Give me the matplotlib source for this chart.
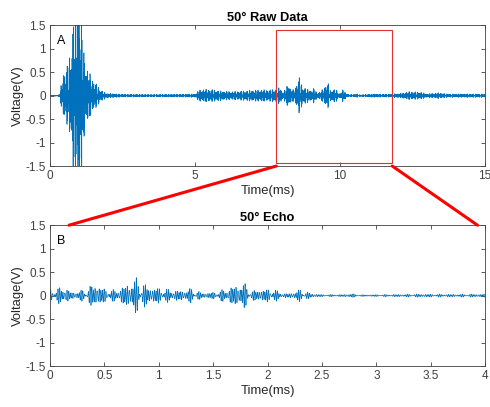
import numpy as np
import matplotlib
matplotlib.use("Agg")
import matplotlib.pyplot as plt
from matplotlib.patches import Rectangle, ConnectionPatch

plt.rcParams["font.family"] = ["Liberation Sans", "DejaVu Sans"]

# envelope of the raw record (time in ms, amplitude in V)
env_t = [0.0, 0.3, 0.36, 0.45, 0.55, 0.65, 0.75, 0.84, 0.9, 0.98, 1.05, 1.13,
         1.2, 1.3, 1.45, 1.6, 1.75, 1.95, 2.5, 3.5, 4.5, 5.0, 5.15, 5.4, 5.7,
         5.95, 6.3, 6.8, 7.2, 7.6,
         7.8, 7.85, 7.92, 8.0, 8.1, 8.22, 8.3, 8.4, 8.46, 8.6, 8.7, 8.8, 8.9,
         9.0, 9.1, 9.2, 9.3, 9.42, 9.55, 9.62, 9.65, 9.72, 9.85, 9.95, 10.0,
         10.1, 10.2, 10.3, 10.5, 10.55, 10.65, 10.9, 11.2, 11.5, 11.8,
         12.1, 12.4, 12.8, 13.0, 13.4, 13.7, 14.2, 15.0]
env_a = [0.005, 0.01, 0.1, 0.4, 0.45, 0.6, 0.9, 1.7, 1.4, 1.7, 1.5, 1.0,
         0.6, 0.45, 0.3, 0.2, 0.1, 0.04, 0.025, 0.02, 0.025, 0.03, 0.1, 0.11, 0.1,
         0.08, 0.07, 0.09, 0.1, 0.1,
         0.12, 0.1, 0.18, 0.06, 0.1, 0.22, 0.12, 0.1, 0.15, 0.32, 0.16, 0.14, 0.11,
         0.09, 0.13, 0.05, 0.06, 0.12, 0.22, 0.2, 0.08, 0.11, 0.12, 0.04, 0.04,
         0.11, 0.04, 0.02, 0.02, 0.04, 0.015, 0.02, 0.03, 0.025, 0.03,
         0.04, 0.07, 0.06, 0.03, 0.05, 0.03, 0.03, 0.03]

# zoomed window (ms) shown in panel B
win_start = 7.8
win_len = 4.0

t = np.arange(0, 15, 0.001)
amp = np.interp(t, env_t, env_a)
carrier = (0.55 * np.sin(2 * np.pi * 61 * t)
           + 0.35 * np.sin(2 * np.pi * 71 * t + 1.0)
           + 0.25 * np.sin(2 * np.pi * 47 * t + 2.0))
v = amp * carrier / 0.9

mask = (t >= win_start) & (t <= win_start + win_len)
t_echo = t[mask] - win_start
v_echo = v[mask]

blue = "#0072BD"
axcol = "#404040"

fig = plt.figure(figsize=(4.9, 4.07), dpi=100)
ax1 = fig.add_axes([0.102, 0.592, 0.888, 0.346])
ax2 = fig.add_axes([0.102, 0.1007, 0.888, 0.346])


def style(ax):
    ax.tick_params(direction="in", length=3, width=0.6, top=True, right=True,
                   labelsize=8.5, colors=axcol, pad=3)
    for s in ax.spines.values():
        s.set_color(axcol)
        s.set_linewidth(0.6)
    ax.set_ylim(-1.5, 1.5)
    ax.set_yticks([-1.5, -1, -0.5, 0, 0.5, 1, 1.5])
    ax.set_yticklabels(["-1.5", "-1", "-0.5", "0", "0.5", "1", "1.5"])
    ax.set_ylabel("Voltage(V)", fontsize=9.4, color="#262626", labelpad=1)
    ax.set_xlabel("Time(ms)", fontsize=9.4, color="#262626", labelpad=2)


ax1.plot(t, v, color=blue, lw=0.5)
ax1.set_xlim(0, 15)
ax1.set_xticks([0, 5, 10, 15])
style(ax1)
ax1.set_title("50° Raw Data", fontsize=9.3, fontweight="bold", pad=3)
ax1.text(0.015, 0.93, "A", transform=ax1.transAxes, fontsize=9, va="top")
ax1.add_patch(Rectangle((win_start, -1.43), win_len, 2.83, fill=False,
                        edgecolor="#e03030", lw=0.8, zorder=5))

ax2.plot(t_echo, v_echo, color=blue, lw=0.5)
ax2.set_xlim(0, 4)
ax2.set_xticks(np.arange(0, 4.01, 0.5))
ax2.set_xticklabels(["0", "0.5", "1", "1.5", "2", "2.5", "3", "3.5", "4"])
style(ax2)
ax2.set_title("50° Echo", fontsize=9.3, fontweight="bold", pad=3)
ax2.text(0.015, 0.93, "B", transform=ax2.transAxes, fontsize=9, va="top")

for x_top, x_bot in [(win_start, 0.175), (win_start + win_len, 3.93)]:
    con = ConnectionPatch(xyA=(x_top, -1.5), coordsA=ax1.transData,
                          xyB=(x_bot, 1.5), coordsB=ax2.transData,
                          color="red", lw=2.2)
    fig.add_artist(con)

fig.savefig("out.png", dpi=100)
